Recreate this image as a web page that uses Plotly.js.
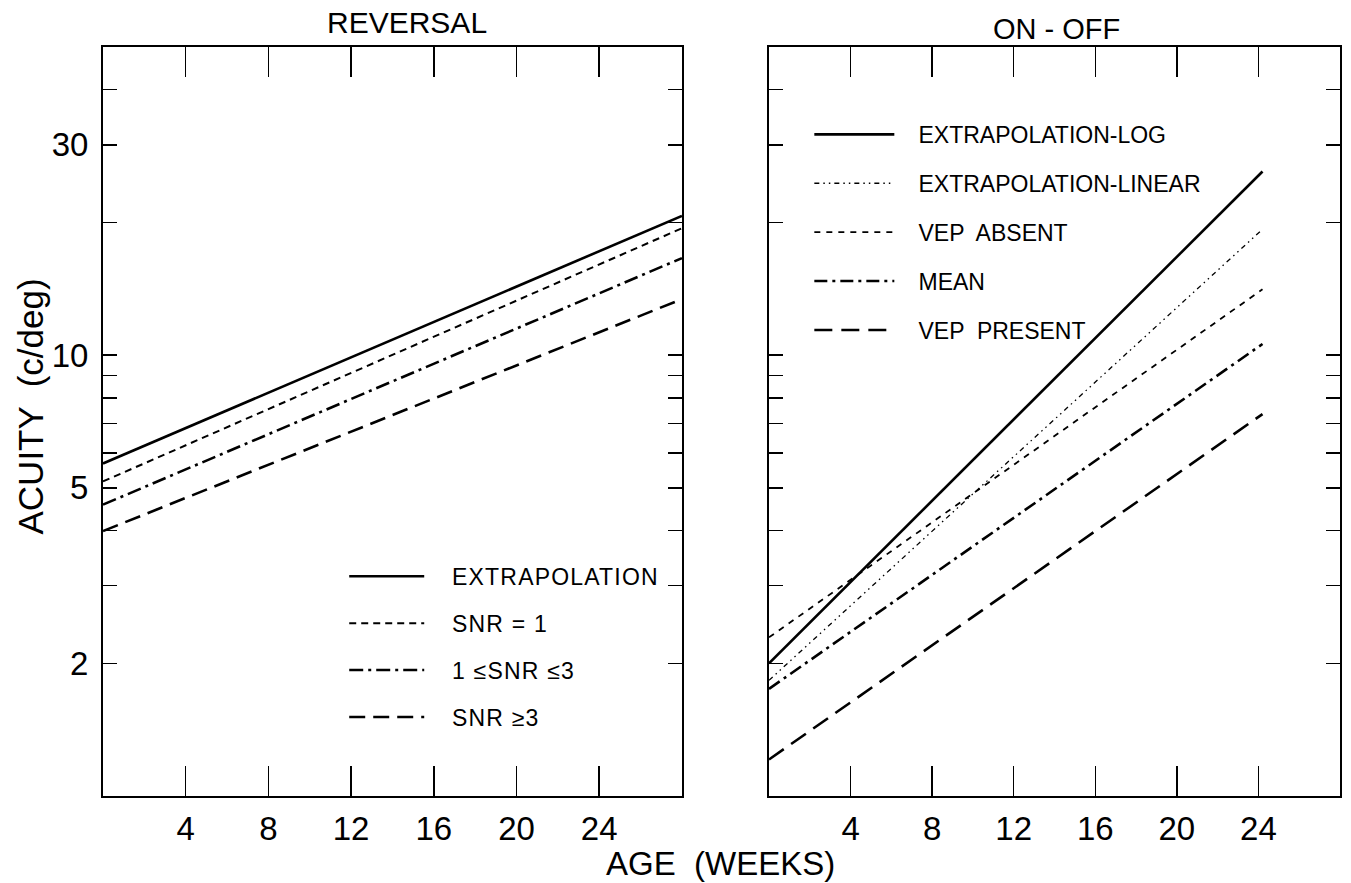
<!DOCTYPE html>
<html>
<head>
<meta charset="utf-8">
<script src="https://cdn.plot.ly/plotly-3.0.1.min.js"></script>
<style>
html, body { margin: 0; padding: 0; background: #fff; }
#chart { width: 1351px; height: 883px; }
#chart .legendtext { letter-spacing: 1.2px; }
</style>
</head>
<body>
<div id="chart"></div>
<script>
// ---- data ----
const weeksReversal = [0, 28];
const revExtrapolation = [5.68, 20.7];
const revSnr1 = [5.17, 19.4];
const revSnr1to3 = [4.58, 16.6];
const revSnr3 = [3.99, 13.4];

const weeksOnOff = [0, 24.2];
const onExtrapLog = [2.0, 26.1];
const onExtrapLinear = [1.83, 19.3];
const onVepAbsent = [2.29, 14.1];
const onMean = [1.75, 10.6];
const onVepPresent = [1.21, 7.35];

const xTickVals = [4, 8, 12, 16, 20, 24];
const xTickText = ['4', '8', '12', '16', '20', '24'];
const yTickVals = [2, 3, 4, 5, 6, 7, 8, 9, 10, 20, 30, 40];
const yTickText = ['2', '', '', '5', '', '', '', '', '10', '', '30', ''];
const yMajorVals = [10];

const revLabels = ['EXTRAPOLATION', 'SNR = 1', '1 \u2264SNR \u22643', 'SNR \u22653'];
const onLabels = ['EXTRAPOLATION-LOG', 'EXTRAPOLATION-LINEAR', 'VEP  ABSENT', 'MEAN', 'VEP  PRESENT'];

// ---- styles ----
const FONT = 'Liberation Sans, Arial, sans-serif';
const PAD = '\u00a0\u00a0\u00a0';
const TAIL = '\u00a0\u00a0\u00a0\u00a0';
const revStyles = [
  {width: 2.6, dash: 'solid'},
  {width: 2.0, dash: '7px,5px'},
  {width: 2.6, dash: '14px,5px,3px,5px'},
  {width: 2.6, dash: '16px,8px'}
];
const onStyles = [
  {width: 2.6, dash: 'solid'},
  {width: 1.3, dash: '5px,4px,1.5px,4px,1.5px,4px'},
  {width: 1.8, dash: '6px,6px'},
  {width: 2.6, dash: '13px,5px,3px,5px'},
  {width: 2.6, dash: '18px,9px'}
];
const revSeries = [revExtrapolation, revSnr1, revSnr1to3, revSnr3];
const onSeries = [onExtrapLog, onExtrapLinear, onVepAbsent, onMean, onVepPresent];

const traces = [];
revSeries.forEach((ys, i) => {
  traces.push({
    x: weeksReversal, y: ys, type: 'scatter', mode: 'lines',
    xaxis: 'x', yaxis: 'y', name: PAD + revLabels[i] + TAIL, legend: 'legend',
    legendgroup: 'r' + i,
    line: {color: '#000', width: revStyles[i].width, dash: revStyles[i].dash},
    hoverinfo: 'skip'
  });
});
onSeries.forEach((ys, i) => {
  traces.push({
    x: weeksOnOff, y: ys, type: 'scatter', mode: 'lines',
    xaxis: 'x2', yaxis: 'y2', name: PAD + onLabels[i] + TAIL, legend: 'legend2',
    legendgroup: 'o' + i,
    line: {color: '#000', width: onStyles[i].width, dash: onStyles[i].dash},
    hoverinfo: 'skip'
  });
});

const yRange = [Math.log10(1), Math.log10(50)];
const xRange = [0, 28];

function xAxis(domain, anchor) {
  return {
    domain: domain, anchor: anchor, range: xRange, type: 'linear',
    tickvals: xTickVals, ticktext: xTickText,
    ticks: 'inside', ticklen: 30, tickwidth: 1.5, tickcolor: '#000',
    showline: true, linewidth: 2, linecolor: '#000', mirror: 'ticks',
    showgrid: false, zeroline: false,
    tickfont: {family: FONT, size: 33, color: '#000'},
    ticklabelstandoff: 2, fixedrange: true
  };
}
function yAxis(anchor, labels) {
  return {
    anchor: anchor, domain: [0, 1], range: yRange, type: 'log',
    tickvals: yTickVals, ticktext: labels ? yTickText : yTickVals.map(() => ''),
    showticklabels: true,
    ticks: 'inside', ticklen: 14, tickwidth: 1.5, tickcolor: '#000',
    showline: true, linewidth: 2, linecolor: '#000', mirror: 'ticks',
    showgrid: false, zeroline: false,
    tickfont: {family: FONT, size: 33, color: '#000'},
    ticklabelstandoff: 6, fixedrange: true
  };
}
function yMajor(over, anchor) {
  return {
    overlaying: over, anchor: anchor, range: yRange, type: 'log',
    tickvals: yMajorVals, showticklabels: false,
    ticks: 'inside', ticklen: 27, tickwidth: 1.5, tickcolor: '#000',
    showline: false, mirror: 'ticks', showgrid: false, zeroline: false,
    fixedrange: true
  };
}

const layout = {
  width: 1351, height: 883,
  margin: {l: 103, r: 11, t: 47, b: 87},
  paper_bgcolor: '#fff', plot_bgcolor: '#fff',
  font: {family: FONT, color: '#000'},
  showlegend: true,
  xaxis: xAxis([0, 0.468], 'y'),
  xaxis2: xAxis([0.5384, 1], 'y2'),
  yaxis: yAxis('x', true),
  yaxis2: yAxis('x2', false),
  yaxis3: yMajor('y', 'x'),
  yaxis4: yMajor('y2', 'x2'),
  legend: {
    x: 0.195, y: 0.322, xanchor: 'left', yanchor: 'top',
    bgcolor: 'rgba(0,0,0,0)', borderwidth: 0,
    font: {family: FONT, size: 23, color: '#000'},
    itemwidth: 75, tracegroupgap: 14, traceorder: 'grouped',
    itemclick: false, itemdoubleclick: false
  },
  legend2: {
    x: 0.571, y: 0.912, xanchor: 'left', yanchor: 'top',
    bgcolor: 'rgba(0,0,0,0)', borderwidth: 0,
    font: {family: FONT, size: 23, color: '#000'},
    itemwidth: 80, tracegroupgap: 16, traceorder: 'grouped',
    itemclick: false, itemdoubleclick: false
  },
  annotations: [
    {text: 'REVERSAL', xref: 'paper', yref: 'paper', x: 0.246, y: 1, yshift: 25,
     xanchor: 'center', yanchor: 'middle', showarrow: false,
     font: {family: FONT, size: 30, color: '#000'}},
    {text: 'ON - OFF', xref: 'paper', yref: 'paper', x: 0.771, y: 1, yshift: 18,
     xanchor: 'center', yanchor: 'middle', showarrow: false,
     font: {family: FONT, size: 29, color: '#000'}},
    {text: 'ACUITY  (c/deg)', xref: 'paper', yref: 'paper', x: 0, xshift: -72, y: 0.52,
     xanchor: 'center', yanchor: 'middle', textangle: -90, showarrow: false,
     font: {family: FONT, size: 35, color: '#000'}},
    {text: 'AGE  (WEEKS)', xref: 'paper', yref: 'paper', x: 0.499, y: 0, yshift: -67,
     xanchor: 'center', yanchor: 'middle', showarrow: false,
     font: {family: FONT, size: 33, color: '#000'}}
  ]
};

Plotly.newPlot('chart', traces, layout, {displayModeBar: false, staticPlot: true});
</script>
</body>
</html>
